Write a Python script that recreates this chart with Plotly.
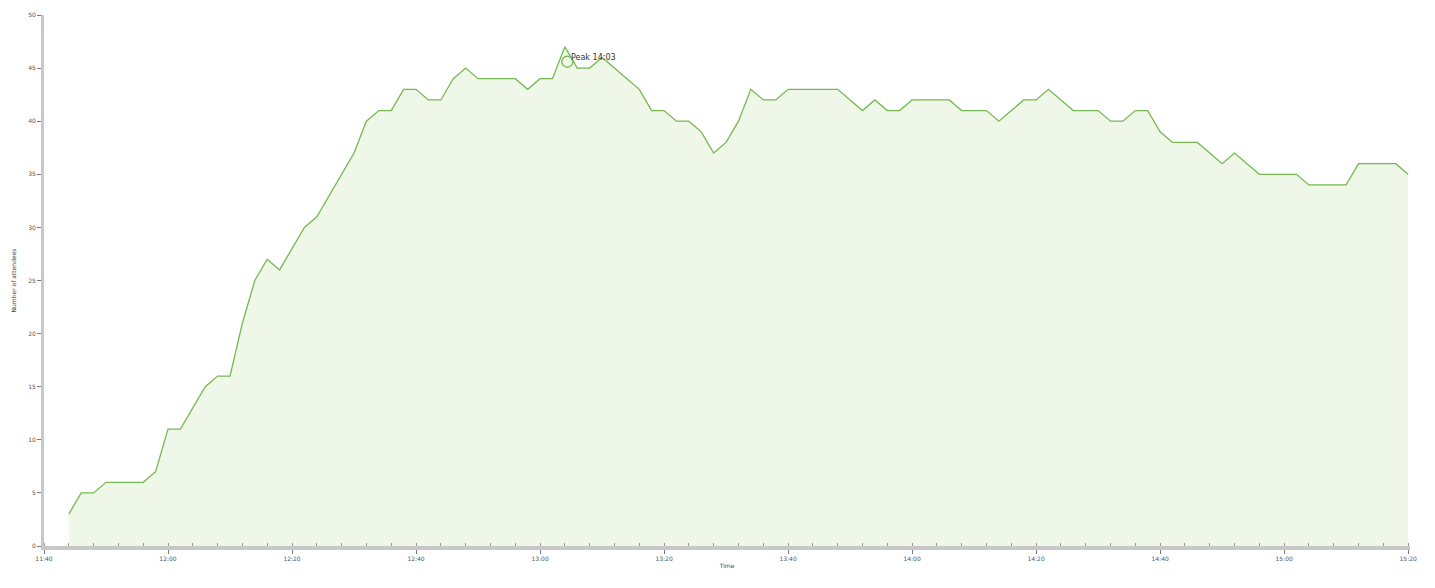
import plotly.graph_objects as go

# minutes after 11:40, sampled every 2 minutes
minutes = list(range(4, 222, 2))
attendees = [
    3, 5, 5, 6, 6, 6, 6, 7, 11, 11,          # m4..m22
    13, 15, 16, 16, 21, 25, 27, 26, 28, 30,  # m24..m42
    31, 33, 35, 37, 40, 41, 41, 43, 43, 42,  # m44..m62
    42, 44, 45, 44, 44, 44, 44, 43, 44, 44,  # m64..m82
    47, 45, 45, 46, 45, 44, 43, 41, 41, 40,  # m84..m102
    40, 39, 37, 38, 40, 43, 42, 42, 43, 43,  # m104..m122
    43, 43, 43, 42, 41, 42, 41, 41, 42, 42,  # m124..m142
    42, 42, 41, 41, 41, 40, 41, 42, 42, 43,  # m144..m162
    42, 41, 41, 41, 40, 40, 41, 41, 39, 38,  # m164..m182
    38, 38, 37, 36, 37, 36, 35, 35, 35, 35,  # m184..m202
    34, 34, 34, 34, 36, 36, 36, 36, 35,      # m204..m220
]
tick_minutes = [0, 20, 40, 60, 80, 100, 120, 140, 160, 180, 200, 220]
tick_labels = ["11:40", "12:00", "12:20", "12:40", "13:00", "13:20",
               "13:40", "14:00", "14:20", "14:40", "15:00", "15:20"]
y_ticks = [0, 5, 10, 15, 20, 25, 30, 35, 40, 45, 50]
peak_minute = [84.4]
peak_value = [45.6]
peak_label = "Peak 14:03"

line_color = "#76b852"
fill_color = "rgba(204,230,186,0.32)"

fig = go.Figure()
fig.add_trace(go.Scatter(
    x=minutes, y=attendees, mode="lines",
    line=dict(color=line_color, width=1.3),
    fill="tozeroy", fillcolor=fill_color,
    hoverinfo="x+y", showlegend=False,
))
fig.add_trace(go.Scatter(
    x=peak_minute, y=peak_value, mode="markers",
    marker=dict(symbol="circle-open", size=11, color=line_color, line=dict(width=1.3)),
    showlegend=False,
))
fig.add_annotation(
    x=peak_minute[0], y=peak_value[0], text=peak_label, showarrow=False,
    xanchor="left", yanchor="bottom", xshift=2, yshift=-2,
    font=dict(family="DejaVu Sans", size=8, color="#333"),
)

axis_font = dict(family="DejaVu Sans", size=6, color="#555")
fig.update_layout(
    width=1435, height=588,
    margin=dict(l=44, r=25, t=11, b=42),
    paper_bgcolor="white", plot_bgcolor="white",
    xaxis=dict(
        range=[0, 220.3], tickmode="array", tickvals=tick_minutes, ticktext=tick_labels,
        showgrid=False, zeroline=False,
        showline=True, linecolor="#c8c8c8", linewidth=4,
        ticks="outside", ticklen=4, tickcolor="#777", tickwidth=1,
        minor=dict(ticks="inside", ticklen=3, tickcolor="#999", dtick=4, tick0=0, showgrid=False),
        tickfont=axis_font,
        title=dict(text="Time", font=dict(family="DejaVu Sans", size=6, color="#444"), standoff=4),
    ),
    yaxis=dict(
        range=[0, 50], tickvals=y_ticks,
        showgrid=False, zeroline=False,
        showline=True, linecolor="#c8c8c8", linewidth=3,
        ticks="outside", ticklen=4, tickcolor="#777", tickwidth=1,
        tickfont=axis_font,
        title=dict(text="Number of attendees", font=dict(family="DejaVu Sans", size=6, color="#444"), standoff=12),
    ),
)

fig.write_html("out.html")
